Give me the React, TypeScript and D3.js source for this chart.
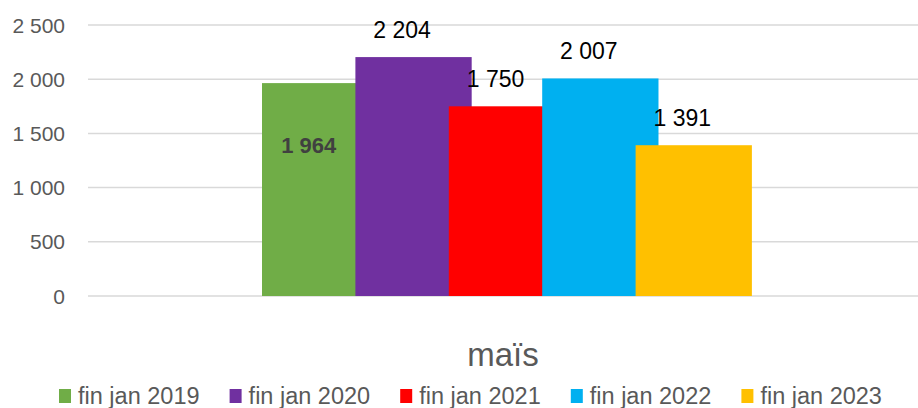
import React from "react";
import * as d3 from "d3";

const categories = ["maïs"];
const series = ["fin jan 2019", "fin jan 2020", "fin jan 2021", "fin jan 2022", "fin jan 2023"];
const values = [1964, 2204, 1750, 2007, 1391];
const colors = ["#70AD47", "#7030A0", "#FF0000", "#00B0F0", "#FFC000"];
const yTicks = [0, 500, 1000, 1500, 2000, 2500];

const width = 918;
const height = 408;
const font = "'Liberation Sans', Arial, sans-serif";

const fmt = (v: number) => d3.format(",")(v).replace(/,/g, " ");

const App = () => {
  const y = d3.scaleLinear().domain([0, 2500]).range([296, 25]);
  const x0 = d3.scaleBand().domain(categories).range([88, 918]);
  const x1 = d3.scaleBand().domain(series).range([262, 729]);
  const barW = x1.bandwidth() * 1.245;
  const legendX = d3.scaleBand().domain(series).range([59, 912]);

  return (
    <svg width={width} height={height} style={{ position: "absolute", left: 0, top: 0, background: "#fff" }}>
      <g>
        {yTicks.map((t) => (
          <g key={t}>
            <line x1={88} x2={918} y1={y(t)} y2={y(t)} stroke="#d9d9d9" strokeWidth={1.5} />
            <text x={65} y={y(t)} dy="0.36em" textAnchor="end" fontFamily={font} fontSize={21} fill="#595959">
              {fmt(t)}
            </text>
          </g>
        ))}
      </g>
      <g>
        {series.map((s, i) => (
          <rect key={s} x={x1(s)!} y={y(values[i])} width={barW} height={y(0) - y(values[i])} fill={colors[i]} />
        ))}
      </g>
      <g fontFamily={font} fontSize={23} textAnchor="middle">
        {series.map((s, i) =>
          i === 0 ? (
            <text key={s} x={x1(s)! + x1.bandwidth() / 2} y={y(values[i]) + 70} fontWeight="bold" fontSize={22} fill="#404040">
              {fmt(values[i])}
            </text>
          ) : (
            <text key={s} x={x1(s)! + x1.bandwidth() / 2} y={y(values[i]) - 19} fill="#000">
              {fmt(values[i])}
            </text>
          )
        )}
      </g>
      {categories.map((c) => (
        <text key={c} x={x0(c)! + x0.bandwidth() / 2} y={366} textAnchor="middle" fontFamily={font} fontSize={33} fill="#595959">
          {c}
        </text>
      ))}
      <g>
        {series.map((s, i) => (
          <g key={s} transform={`translate(${legendX(s)},0)`}>
            <rect x={0} y={389} width={12} height={14} fill={colors[i]} />
            <text x={19} y={404} fontFamily={font} fontSize={23.5} fill="#595959">
              {s}
            </text>
          </g>
        ))}
      </g>
    </svg>
  );
};

export default App;
